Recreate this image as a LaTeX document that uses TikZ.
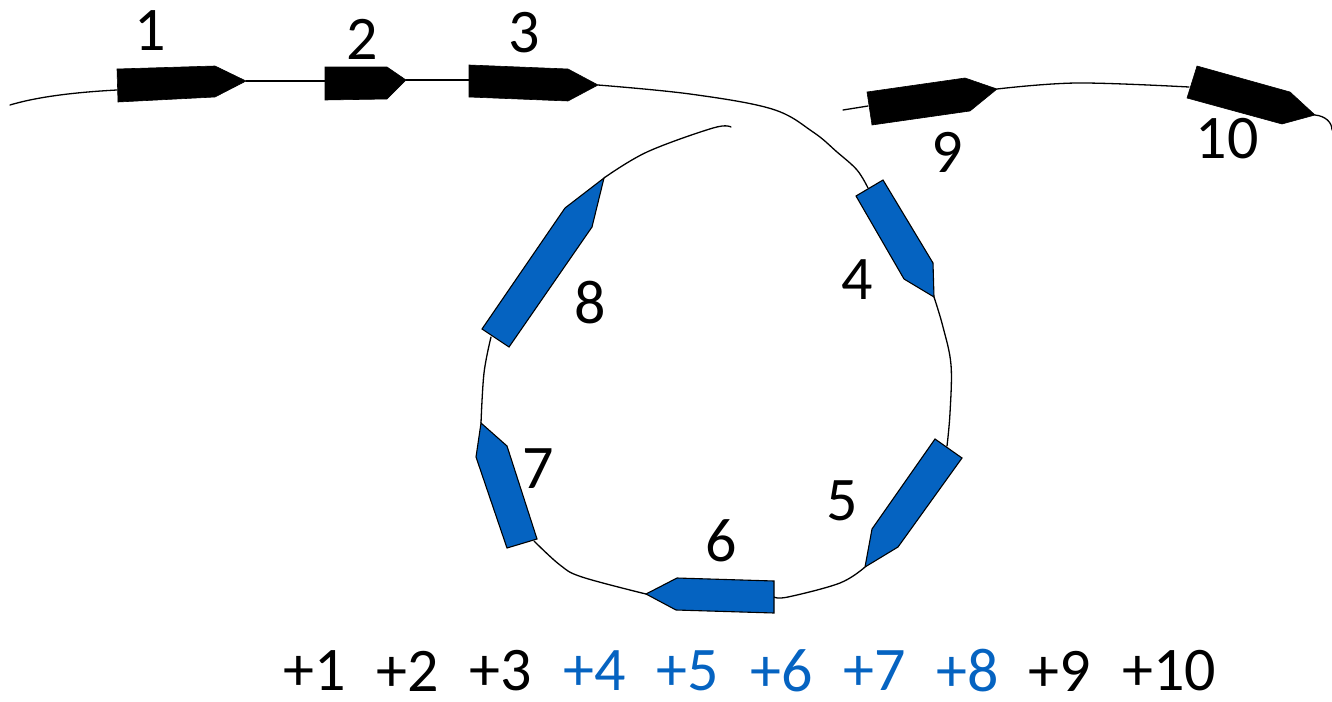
\documentclass[tikz,border=0pt]{standalone}
\usepackage{fontspec}
\setmainfont{Carlito}
\definecolor{gblue}{RGB}{5,99,193}
\begin{document}
\begin{tikzpicture}[x=1pt,y=-1pt,
  strand/.style={line width=1.3pt, line cap=round},
  bgene/.style={fill=black, draw=black, line width=0.6pt},
  lgene/.style={fill=gblue, draw=black, line width=1.1pt},
  lab/.style={font=\fontsize{62}{62}\selectfont, inner sep=0pt},
  blab/.style={lab, text=gblue}]
\useasboundingbox (0,0) rectangle (1332,701);
% strand anchor points
\coordinate (s0) at (10,105);
\coordinate (g1in) at (117,90);
\coordinate (g1out) at (246,81);
\coordinate (g2in) at (325,81);
\coordinate (g2out) at (406,80);
\coordinate (g3in) at (469,80);
\coordinate (g3out) at (598,85);
\coordinate (g4in) at (868,188);
\coordinate (g4out) at (934,297);
\coordinate (g5in) at (947,446);
\coordinate (g5out) at (865,567);
\coordinate (g6in) at (774,597);
\coordinate (g6out) at (646,594);
\coordinate (g7in) at (534,541);
\coordinate (g7out) at (481,423);
\coordinate (g8in) at (491,337);
\coordinate (g8out) at (604,178);
\coordinate (e1) at (731,127);
\coordinate (s9) at (843,110);
\coordinate (g9in) at (868,106);
\coordinate (g9out) at (997,89);
\coordinate (g10in) at (1189,87);
\coordinate (g10out) at (1315,115);
\coordinate (e2) at (1332,130);
% strands
\draw[strand] (s0) .. controls (40,96) and (80,92) .. (g1in);
\draw[strand] (g1out) -- (g2in);
\draw[strand] (g2out) -- (g3in);
\draw[strand] plot[smooth, tension=0.6] coordinates {(g3out) (690,94) (772,109) (813,132) (837,152) (857,170) (g4in)};
\draw[strand] plot[smooth, tension=0.6] coordinates {(g4out) (943,327) (951,365) (950,413) (g5in)};
\draw[strand] plot[smooth, tension=0.6] coordinates {(g5out) (840,583) (788,597) (g6in)};
\draw[strand] plot[smooth, tension=0.6] coordinates {(g6out) (582,577) (560,565) (g7in)};
\draw[strand] plot[smooth, tension=0.6] coordinates {(g7out) (484,373) (g8in)};
\draw[strand] plot[smooth, tension=0.6] coordinates {(g8out) (647,152) (713,128) (e1)};
\draw[strand] (s9) -- (g9in);
\draw[strand] plot[smooth, tension=0.6] coordinates {(g9out) (1077,83) (g10in)};
\draw[strand] (g10out) .. controls (1325,116) and (1332,122) .. (e2);
% black genes
\filldraw[bgene] (117,69) -- (215,66) -- (g1out) -- (215,97) -- (118,102) -- cycle;
\filldraw[bgene] (325,67) -- (387,67) -- (g2out) -- (387,99) -- (325,100) -- cycle;
\filldraw[bgene] (469,65) -- (568,69) -- (g3out) -- (568,101) -- (469,97) -- cycle;
\filldraw[bgene] (867,92) -- (965,78) -- (g9out) -- (970,111) -- (872,125) -- cycle;
\filldraw[bgene] (1197,66) -- (1290,92) -- (g10out) -- (1282,124) -- (1187,98) -- cycle;
% blue genes
\filldraw[lgene] (856,196) -- (883,180) -- (933,263) -- (g4out) -- (904,279) -- cycle;
\filldraw[lgene] (935,439) -- (962,458) -- (898,547) -- (g5out) -- (872,529) -- cycle;
\filldraw[lgene] (774,581) -- (774,613) -- (676,610) -- (g6out) -- (677,578) -- cycle;
\filldraw[lgene] (537,539) -- (507,548) -- (476,457) -- (g7out) -- (507,446) -- cycle;
\filldraw[lgene] (509,347) -- (482,329) -- (565,208) -- (g8out) -- (592,227) -- cycle;
% gene labels
\node[lab] (l1) at (150,31) {1};
\node[lab] (l2) at (362,39) {2};
\node[lab] (l3) at (524,33) {3};
\node[lab] (l4) at (857,280) {4};
\node[lab] (l5) at (842,501) {5};
\node[lab] (l6) at (721,541) {6};
\node[lab] (l7) at (538,469) {7};
\node[lab] (l8) at (590,303) {8};
\node[lab] (l9) at (947,152) {9};
\node[lab] (l10) at (1227,139) {10};
% order
\node[lab] (o1) at (315,671) {+1};
\node[lab] (o2) at (408,671) {+2};
\node[lab] (o3) at (501,671) {+3};
\node[blab] (o4) at (595,671) {+4};
\node[blab] (o5) at (688,671) {+5};
\node[blab] (o6) at (782,671) {+6};
\node[blab] (o7) at (875,671) {+7};
\node[blab] (o8) at (968,671) {+8};
\node[lab] (o9) at (1060,671) {+9};
\node[lab] (o10) at (1169,671) {+10};
\end{tikzpicture}
\end{document}
